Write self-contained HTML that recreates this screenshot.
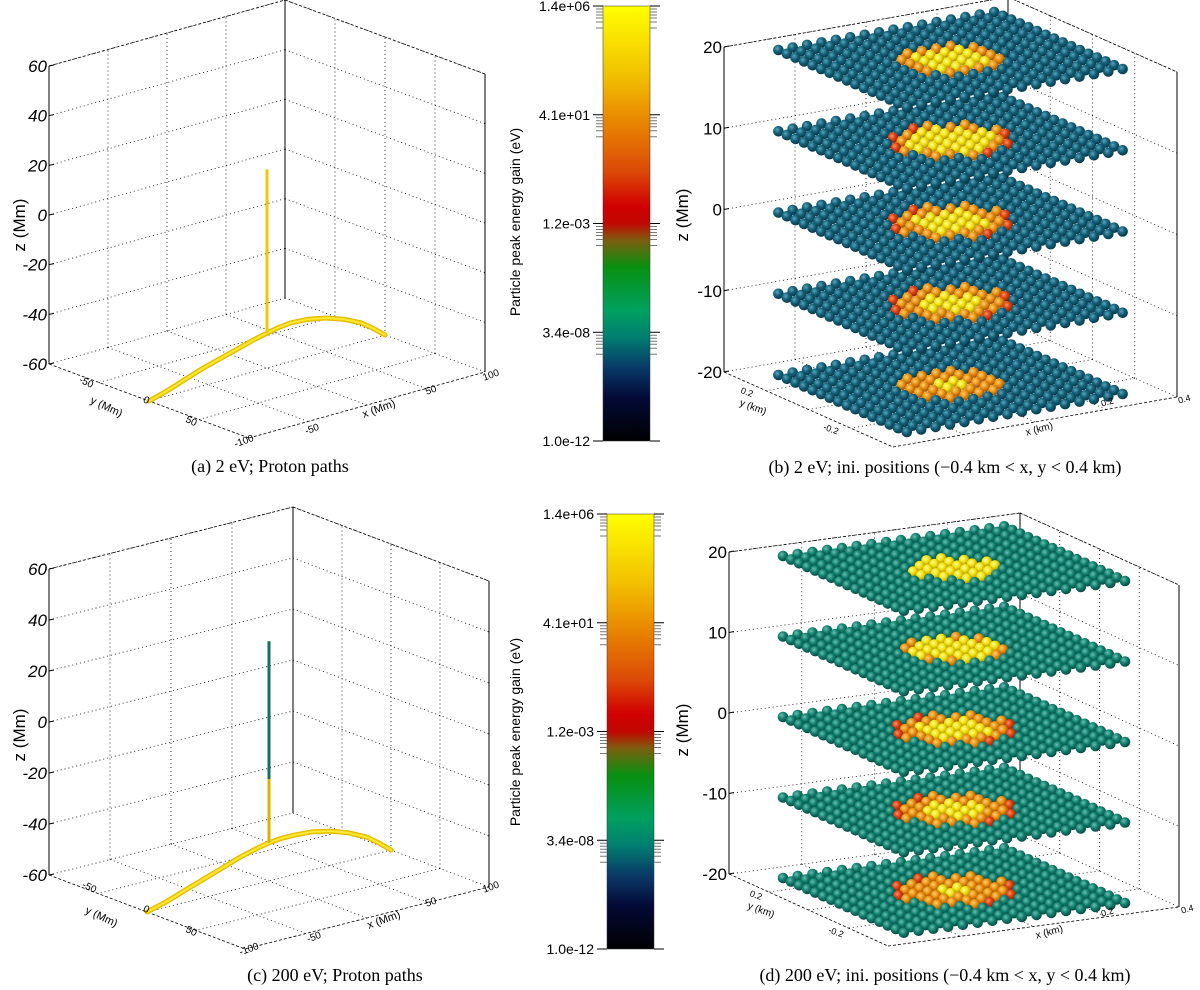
<!DOCTYPE html>
<html><head><meta charset="utf-8"><style>
html,body{margin:0;padding:0;background:#fff;}
svg{display:block;font-family:"Liberation Sans",sans-serif;}
.cap{font-family:"Liberation Serif",serif;font-size:18px;fill:#000;}
</style></head><body>
<svg id="fig" width="1200" height="990" viewBox="0 0 1200 990" xmlns="http://www.w3.org/2000/svg">
<defs>
<linearGradient id="cmap" x1="0" y1="0" x2="0" y2="1">
<stop offset="0" stop-color="#ffff00"/><stop offset="0.16" stop-color="#f2c000"/>
<stop offset="0.27" stop-color="#e88400"/><stop offset="0.38" stop-color="#dc4a08"/>
<stop offset="0.46" stop-color="#d00000"/><stop offset="0.5" stop-color="#c00800"/>
<stop offset="0.54" stop-color="#7a6010"/><stop offset="0.6" stop-color="#089010"/>
<stop offset="0.7" stop-color="#00a060"/><stop offset="0.76" stop-color="#008070"/>
<stop offset="0.83" stop-color="#0a3a68"/><stop offset="0.9" stop-color="#040a38"/>
<stop offset="1" stop-color="#000000"/>
</linearGradient>
<radialGradient id="gTealB" cx="0.38" cy="0.35" r="0.65"><stop offset="0" stop-color="#5aa5b8"/><stop offset="0.5" stop-color="#14607a"/><stop offset="1" stop-color="#083848"/></radialGradient>
<radialGradient id="gTealD" cx="0.38" cy="0.35" r="0.65"><stop offset="0" stop-color="#6ac0b0"/><stop offset="0.5" stop-color="#128070"/><stop offset="1" stop-color="#064a40"/></radialGradient>
<radialGradient id="gYel" cx="0.38" cy="0.35" r="0.65"><stop offset="0" stop-color="#ffff90"/><stop offset="0.5" stop-color="#f0e010"/><stop offset="1" stop-color="#b09000"/></radialGradient>
<radialGradient id="gOra" cx="0.38" cy="0.35" r="0.65"><stop offset="0" stop-color="#ffd070"/><stop offset="0.5" stop-color="#e89010"/><stop offset="1" stop-color="#a05000"/></radialGradient>
<radialGradient id="gRed" cx="0.38" cy="0.35" r="0.65"><stop offset="0" stop-color="#ff9060"/><stop offset="0.5" stop-color="#d84010"/><stop offset="1" stop-color="#902000"/></radialGradient>
</defs>
<g id="layer"></g>
</svg>
<script>
// ---- data ----
var zTicksPath = [60, 40, 20, 0, -20, -40, -60];
var zTicksGrid = [20, 10, 0, -10, -20];
var cbLabels = ["1.4e+06", "4.1e+01", "1.2e-03", "3.4e-08", "1.0e-12"];
// proton path: x position (-100..100) and z (Mm)
var pathX = [-100, -90, -80, -65, -50, -35, -20, -10, 0, 10, 25, 40, 55, 70, 85, 100];
var pathZA = [-60, -56, -52.5, -49, -46.5, -45, -44.5, -45, -46, -47, -49, -51, -53, -55.5, -58, -60];
var pathZC = [-60, -56, -52.5, -49, -46.5, -45, -44.5, -44.5, -45, -46, -48, -50.5, -53, -55.5, -58, -60];
var vertTopA = 20, vertBotA = -46;
var vertTopC = 34, vertBotC = -45;
// initial-position layers
var layerZ = [-20, -10, 0, 10, 20];
var hotRadiusB = [3.3, 3.7, 3.7, 3.7, 3.4];
var hotCoreB = [0.8, 2.0, 2.3, 2.6, 2.5];
var hotRadiusD = [3.6, 3.6, 3.6, 3.2, 2.6];
var hotCoreD = [1.0, 2.0, 2.4, 2.8, 2.8];

var NS = "http://www.w3.org/2000/svg";
var root = document.getElementById("layer");
function el(tag, attrs, parent) {
  var e = document.createElementNS(NS, tag);
  for (var k in attrs) e.setAttribute(k, attrs[k]);
  (parent || root).appendChild(e);
  return e;
}
function mkProj(B, L, R, H, zmin, zmax) {
  return function (a, b, z) {
    var zn = (z - zmin) / (zmax - zmin);
    return [B[0] + a * (L[0] - B[0]) + b * (R[0] - B[0]), B[1] + a * (L[1] - B[1]) + b * (R[1] - B[1]) - zn * H];
  };
}
function line(p, q, dash, name, g) {
  var e = el("line", {x1: p[0], y1: p[1], x2: q[0], y2: q[1], stroke: "#000", "stroke-width": dash ? 0.8 : 1, "stroke-dasharray": dash || "none"}, g);
  
  
  return e;
}
function text(x, y, s, size, anchor, name, rot, g, extra) {
  var t = el("text", {x: x, y: y, "font-size": size, "text-anchor": anchor || "start", fill: "#000"}, g);
  if (rot) t.setAttribute("transform", "rotate(" + rot + " " + x + " " + y + ")");
  if (extra) for (var k in extra) t.setAttribute(k, extra[k]);
  t.textContent = s;
  
  
  return t;
}
function drawBox(P, zmin, zmax, ticks, g, pref, italic) {
  var dot = "1,3", dash = "3,2";
  [0.25, 0.5, 0.75].forEach(function (f) {
    line(P(f, 0, zmin), P(f, 0, zmax), dot, pref + "-grid-v", g);
    line(P(0, f, zmin), P(0, f, zmax), dot, pref + "-grid-v", g);
    line(P(f, 0, zmin), P(f, 1, zmin), dot, pref + "-grid-floor", g);
    line(P(0, f, zmin), P(1, f, zmin), dot, pref + "-grid-floor", g);
  });
  ticks.forEach(function (z) {
    line(P(1, 0, z), P(0, 0, z), dot, pref + "-grid-h", g);
    line(P(0, 0, z), P(0, 1, z), dot, pref + "-grid-h", g);
  });
  line(P(1, 0, zmax), P(0, 0, zmax), dash, pref + "-edge-top", g);
  line(P(0, 0, zmax), P(0, 1, zmax), dash, pref + "-edge-top", g);
  line(P(1, 0, zmin), P(1, 1, zmin), dash, pref + "-edge-front", g);
  line(P(1, 1, zmin), P(0, 1, zmin), dash, pref + "-edge-front", g);
  line(P(1, 0, zmin), P(1, 0, zmax), null, pref + "-z-axis", g);
  line(P(0, 0, zmin), P(0, 0, zmax), null, pref + "-back-edge", g);
  line(P(0, 1, zmin), P(0, 1, zmax), null, pref + "-right-edge", g);
  ticks.forEach(function (z) {
    var p = P(1, 0, z);
    line(p, [p[0] + 5, p[1] - 1], null, pref + "-z-tick", g);
    text(p[0] - 2, p[1] + 6, String(z), 17, "end", pref + "-z-tick-label", 0, g, italic ? {"font-style": "italic"} : null);
  });
}
function panelPath(P, pathZ, vTop, vBot, g, pref, vertColor) {
  var pts = pathX.map(function (x, i) { var q = P((x + 100) / 200, 0.5, pathZ[i]); return q[0].toFixed(1) + "," + q[1].toFixed(1); });
  [5, 3, 1.5].forEach(function (w, k) {
    var pl = el("polyline", {points: pts.join(" "), fill: "none", stroke: ["#e0b800", "#f2d400", "#ffe840"][k], "stroke-width": w, "stroke-linejoin": "round", "stroke-linecap": "round"}, g);
    
    
  });
  var top = P(0.5, 0.5, vTop), bot = P(0.5, 0.5, vBot);
  var v = el("line", {x1: top[0], y1: top[1], x2: bot[0], y2: bot[1], stroke: vertColor, "stroke-width": 3}, g);
  
  
  return [top, bot];
}
function colorbar(x, y0, y1, labelCy, g, pref) {
  var r = el("rect", {x: x, y: y0, width: 47, height: y1 - y0, fill: "url(#cmap)", stroke: "#333", "stroke-width": 0.5}, g);
  
  
  cbLabels.forEach(function (s, i) {
    var y = y0 + (y1 - y0) * i / (cbLabels.length - 1);
    text(x - 13, y + 5, s, 14, "end", pref + "-colorbar-tick-label", 0, g);
    line([x - 10, y], [x, y], null, pref + "-colorbar-tick", g);
    line([x + 47, y], [x + 57, y], null, pref + "-colorbar-tick", g);
    if (i < cbLabels.length - 1) {
      [3, 6, 9, 12, 16, 22].forEach(function (d) {
        var l1 = line([x - 7, y + d], [x, y + d], null, pref + "-colorbar-minor-tick", g);
        l1.setAttribute("stroke", "#777");
        var l2 = line([x + 47, y + d], [x + 54, y + d], null, pref + "-colorbar-minor-tick", g);
        l2.setAttribute("stroke", "#777");
      });
    }
  });
  text(520, labelCy, "Particle peak energy gain (eV)", 14, "middle", pref + "-colorbar-title", -90, g);
}
function spheres(P, hotR, hotC, baseGrad, g, pref) {
  var N = 16, lo = 0.12, hi = 0.88, c = (N - 1) / 2;
  layerZ.forEach(function (z, li) {
    var lg = el("g", {}, g);
    
    
    var items = [];
    for (var i = 0; i < N; i++) for (var j = 0; j < N; j++) {
      var a = lo + (hi - lo) * i / (N - 1), b = lo + (hi - lo) * j / (N - 1);
      var p = P(a, b, z);
      var d = Math.sqrt((i - c) * (i - c) + (j - c) * (j - c));
      var fill = "url(#" + baseGrad + ")";
      if (d < hotR[li]) {
        fill = d < hotC[li] ? "url(#gYel)" : (d > hotR[li] - 0.6 && ((i + j) % 3 === 0) ? "url(#gRed)" : "url(#gOra)");
      }
      items.push([p, fill]);
    }
    items.sort(function (u, v) { return u[0][1] - v[0][1]; });
    items.forEach(function (it) {
      var s = el("circle", {cx: it[0][0].toFixed(1), cy: it[0][1].toFixed(1), r: 5.3, fill: it[1]}, lg);
      
      
    });
  });
}

// ---- panel (a) ----
var gA = el("g", {});  
var PA = mkProj([285, 298], [49, 364], [485, 372], 298, -60, 60);
drawBox(PA, -60, 60, zTicksPath, gA, "panel-a", true);
panelPath(PA, pathZA, vertTopA, vertBotA, gA, "panel-a", "#f0c800");
text(25, 225, "z (Mm)", 17, "middle", "panel-a-z-axis-title", -90, gA);
text(85, 385, "-50", 10, "middle", "panel-a-y-tick-label", 25, gA);
text(145, 403, "0", 10, "middle", "panel-a-y-tick-label", 25, gA);
text(190, 424, "50", 10, "middle", "panel-a-y-tick-label", 25, gA);
text(105, 410, "y (Mm)", 11, "middle", "panel-a-y-axis-title", 25, gA);
text(245, 444, "-100", 10, "middle", "panel-a-x-tick-label", -20, gA);
text(313, 432, "-50", 10, "middle", "panel-a-x-tick-label", -20, gA);
text(380, 412, "x (Mm)", 11, "middle", "panel-a-x-axis-title", -20, gA);
text(432, 393, "50", 10, "middle", "panel-a-x-tick-label", -20, gA);
text(492, 378, "100", 10, "middle", "panel-a-x-tick-label", -20, gA);
text(270, 472, "(a)  2 eV; Proton paths", 18, "middle", "caption-a", 0, gA, {"class": "cap"});

// ---- panel (c) ----
var gC = el("g", {});  
var PC = mkProj([293, 813], [49, 875], [489, 887], 306, -60, 60);
drawBox(PC, -60, 60, zTicksPath, gC, "panel-c", true);
var vc = panelPath(PC, pathZC, vertTopC, vertBotC, gC, "panel-c", "#e0b000");
var teal = el("line", {x1: vc[0][0], y1: vc[0][1], x2: vc[0][0], y2: PC(0.5, 0.5, -20)[1], stroke: "#137060", "stroke-width": 3}, gC);


text(25, 735, "z (Mm)", 17, "middle", "panel-c-z-axis-title", -90, gC);
text(88, 890, "-50", 10, "middle", "panel-c-y-tick-label", 25, gC);
text(145, 912, "0", 10, "middle", "panel-c-y-tick-label", 25, gC);
text(190, 934, "50", 10, "middle", "panel-c-y-tick-label", 25, gC);
text(100, 920, "y (Mm)", 11, "middle", "panel-c-y-axis-title", 25, gC);
text(250, 952, "-100", 10, "middle", "panel-c-x-tick-label", -20, gC);
text(315, 940, "-50", 10, "middle", "panel-c-x-tick-label", -20, gC);
text(385, 923, "x (Mm)", 11, "middle", "panel-c-x-axis-title", -20, gC);
text(432, 905, "50", 10, "middle", "panel-c-x-tick-label", -20, gC);
text(492, 890, "100", 10, "middle", "panel-c-x-tick-label", -20, gC);
text(335, 981, "(c)  200 eV; Proton paths", 18, "middle", "caption-c", 0, gC, {"class": "cap"});

// ---- colorbars ----
var gCb1 = el("g", {});  
colorbar(603, 6, 441, 222, gCb1, "top");
var gCb2 = el("g", {});  
colorbar(607, 514, 949, 732, gCb2, "bottom");

// ---- panel (b) ----
var gB = el("g", {});  
var PB = mkProj([1008, 322], [724, 372], [1177, 397], 325, -20, 20);
drawBox(PB, -20, 20, zTicksGrid, gB, "panel-b", false);
spheres(PB, hotRadiusB, hotCoreB, "gTealB", gB, "panel-b");
text(688, 215, "z (Mm)", 17, "middle", "panel-b-z-axis-title", -90, gB);
text(746, 395, "0.2", 9, "middle", "panel-b-y-tick-label", 20, gB);
text(752, 410, "y (km)", 10, "middle", "panel-b-y-axis-title", 20, gB);
text(830, 432, "-0.2", 9, "middle", "panel-b-y-tick-label", 20, gB);
text(1040, 432, "x (km)", 10, "middle", "panel-b-x-axis-title", -15, gB);
text(1108, 405, "0.2", 9, "middle", "panel-b-x-tick-label", -15, gB);
text(1185, 402, "0.4", 9, "middle", "panel-b-x-tick-label", -15, gB);
text(945, 473, "(b)  2 eV; ini. positions (\u22120.4 km < x, y < 0.4 km)", 18, "middle", "caption-b", 0, gB, {"class": "cap"});

// ---- panel (d) ----
var gD = el("g", {});  
var PD = mkProj([1020, 835], [729, 874], [1179, 907], 322, -20, 20);
drawBox(PD, -20, 20, zTicksGrid, gD, "panel-d", false);
spheres(PD, hotRadiusD, hotCoreD, "gTealD", gD, "panel-d");
text(688, 730, "z (Mm)", 17, "middle", "panel-d-z-axis-title", -90, gD);
text(755, 898, "0.2", 9, "middle", "panel-d-y-tick-label", 20, gD);
text(760, 913, "y (km)", 10, "middle", "panel-d-y-axis-title", 20, gD);
text(835, 935, "-0.2", 9, "middle", "panel-d-y-tick-label", 20, gD);
text(1050, 935, "x (km)", 10, "middle", "panel-d-x-axis-title", -15, gD);
text(1108, 915, "0.2", 9, "middle", "panel-d-x-tick-label", -15, gD);
text(1188, 912, "0.4", 9, "middle", "panel-d-x-tick-label", -15, gD);
text(945, 981, "(d)  200 eV; ini. positions (\u22120.4 km < x, y < 0.4 km)", 18, "middle", "caption-d", 0, gD, {"class": "cap"});
</script>
</body></html>
